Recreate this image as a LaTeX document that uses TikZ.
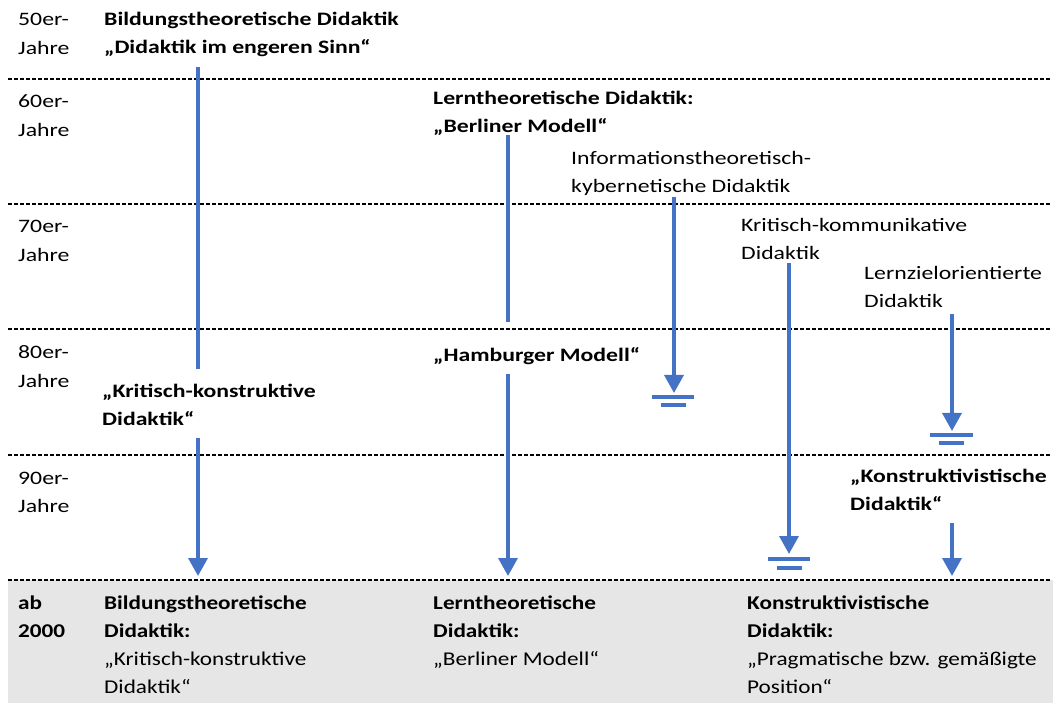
\documentclass[tikz,border=0pt]{standalone}
\usepackage{fontspec}
\setmainfont{Carlito}[FakeStretch=1.25]
\newfontfamily\bandfont{Carlito}[FakeStretch=1.19]
\usetikzlibrary{arrows.meta}
\definecolor{flowblue}{HTML}{4472C4}
\definecolor{basegray}{HTML}{E7E6E6}
\begin{document}
\begin{tikzpicture}[x=1pt,y=-1pt,
  % the base anchor of a multi-line label sits on its last line
  lbl/.style={anchor=base west, inner sep=0pt, align=left,
    font=\fontsize{19}{28}\selectfont},
  lblb/.style={lbl, font=\fontsize{19}{28}\selectfont\bfseries},
  yr/.style={lbl, font=\fontsize{19}{28.5}\selectfont},
  lblf/.style={lbl, font=\bandfont\fontsize{19.5}{28}\selectfont},
  lblfb/.style={lbl, font=\bandfont\fontsize{19.5}{28}\selectfont\bfseries},
  sep/.style={black, line width=1.2pt, dash pattern=on 4pt off 2pt},
  flow/.style={flowblue, line width=3.5pt},
  flowarrow/.style={flow, -{Triangle[width=19pt,length=18pt]}},
  earth/.style={flowblue, line width=3.5pt}]
\useasboundingbox (0,0) rectangle (1053,703);

% final period band
\fill[basegray] (8,580) rectangle (1053,703);

% decade separators
\foreach \yy in {79,204,329,455,580}
  \draw[sep] (8,\yy) -- (1050,\yy);

% decade labels
\node[yr]  (y50) at (18,54.5)  {50er-\\Jahre};
\node[yr]  (y60) at (18,136.5) {60er-\\Jahre};
\node[yr]  (y70) at (18,261.5) {70er-\\Jahre};
\node[yr]  (y80) at (18,387.5) {80er-\\Jahre};
\node[yr]  (y90) at (18,512.5) {90er-\\Jahre};
\node[lblfb] (y00) at (18,637) {ab\\2000};

% models
\node[lblb] (bild)  at (104,54)   {Bildungstheoretische Didaktik\\„Didaktik im engeren Sinn“};
\node[lblb] (lern)  at (433,132.5){Lerntheoretische Didaktik:\\„Berliner Modell“};
\node[lbl]  (info)  at (571,192.5){Informationstheoretisch-\\kybernetische Didaktik};
\node[lbl]  (komm)  at (741,260)  {Kritisch-kommunikative\\Didaktik};
\node[lbl]  (ziel)  at (864,308)  {Lernzielorientierte\\Didaktik};
\node[lblb] (hamb)  at (433,362)  {„Hamburger Modell“};
\node[lblb] (krit)  at (102,425)  {„Kritisch-konstruktive\\Didaktik“};
\node[lblb] (konst) at (850,510)  {„Konstruktivistische\\Didaktik“};

% current positions
\node[lblf] (endbild) at (104,693) {\textbf{Bildungstheoretische}\\\textbf{Didaktik:}\\„Kritisch-konstruktive\\Didaktik“};
\node[lblf] (endlern) at (433,665) {\textbf{Lerntheoretische}\\\textbf{Didaktik:}\\„Berliner Modell“};
\node[lblf] (endkons) at (747,693) {\textbf{Konstruktivistische}\\\textbf{Didaktik:}\\„Pragmatische bzw. gemäßigte\\Position“};

% line end points
\coordinate (a1) at (198,67);   \coordinate (a2) at (198,369);
\coordinate (a3) at (198,438);  \coordinate (a4) at (198,576);
\coordinate (b1) at (508,135);  \coordinate (b2) at (508,322);
\coordinate (b3) at (508,374);  \coordinate (b4) at (508,576);
\coordinate (c1) at (674,197);  \coordinate (c2) at (674,393);
\coordinate (d1) at (789,263);  \coordinate (d2) at (789,554);
\coordinate (e1) at (952,314);  \coordinate (e2) at (952,431);
\coordinate (f1) at (952,523);  \coordinate (f2) at (952,576);

% development lines
\draw[flow] (a1) -- (a2);
\draw[flowarrow] (a3) -- (a4);
\draw[flow] (b1) -- (b2);
\draw[flowarrow] (b3) -- (b4);
\draw[flowarrow] (c1) -- (c2);
\draw[flowarrow] (d1) -- (d2);
\draw[flowarrow] (e1) -- (e2);
\draw[flowarrow] (f1) -- (f2);

% discontinued lines
\draw[earth] (652,397) -- (694,397) (661,405) -- (686,405);
\draw[earth] (768,559) -- (810,559) (777,568) -- (802,568);
\draw[earth] (930,435) -- (973,435) (939,443) -- (964,443);
\end{tikzpicture}
\end{document}
